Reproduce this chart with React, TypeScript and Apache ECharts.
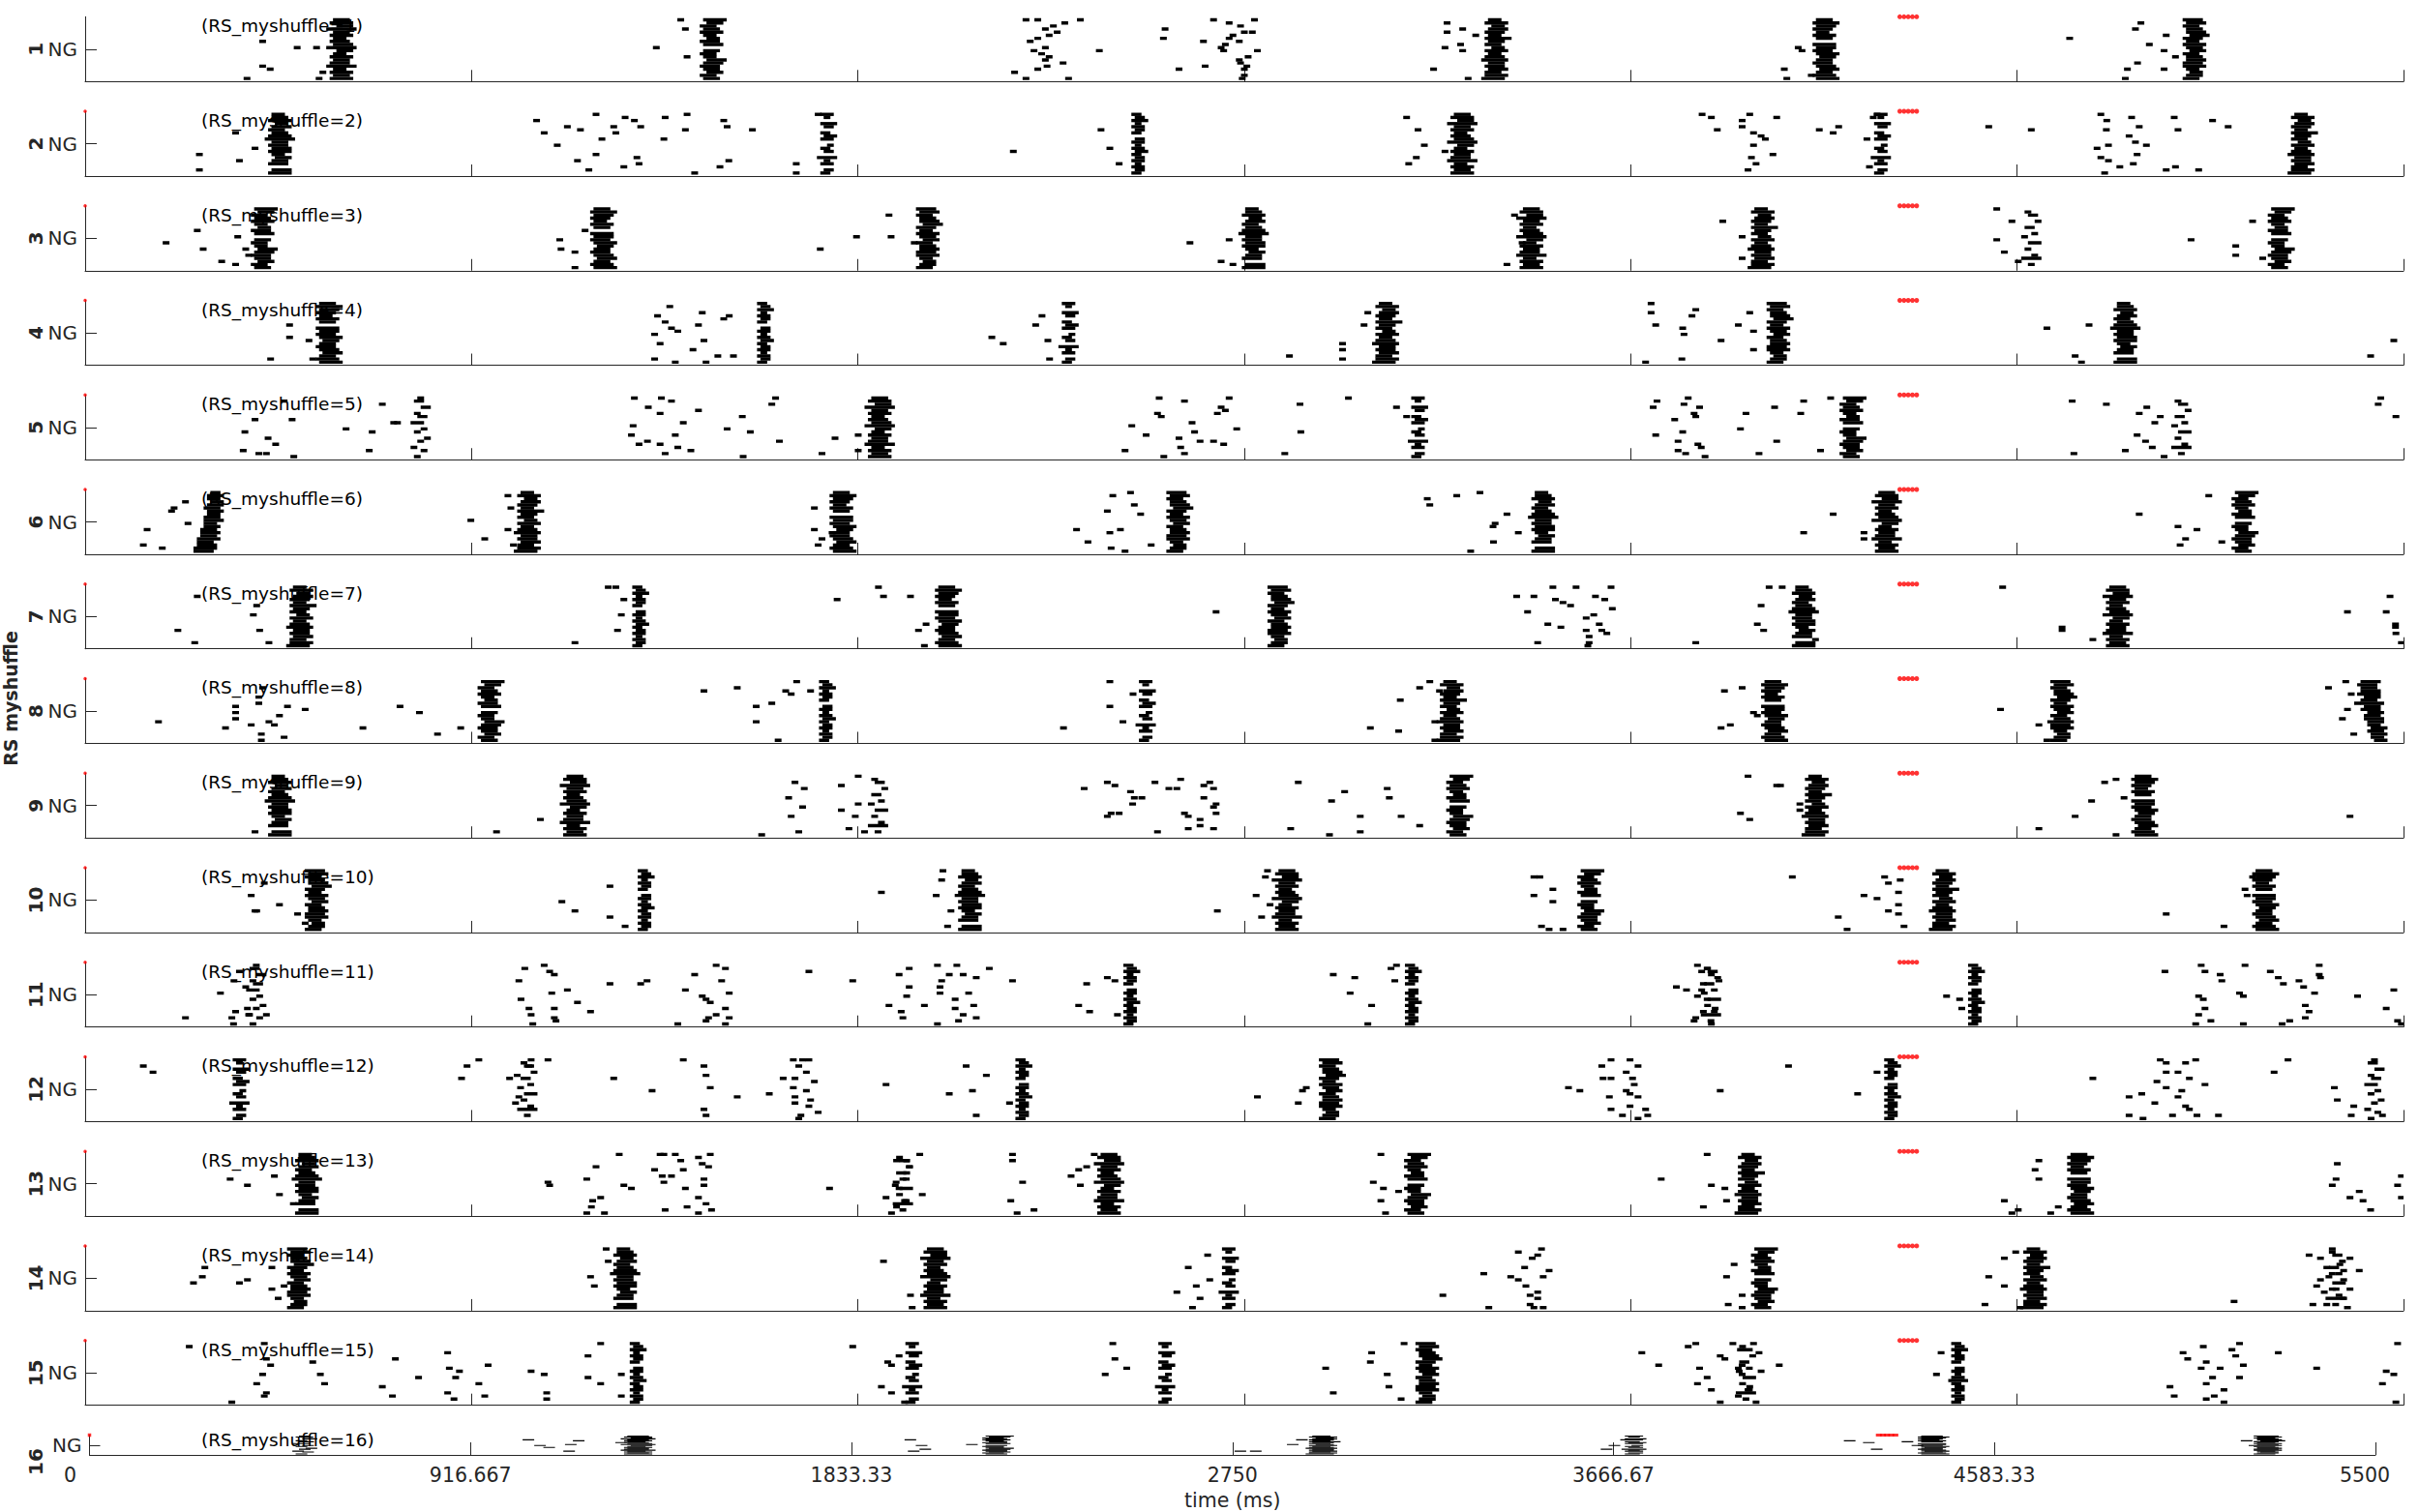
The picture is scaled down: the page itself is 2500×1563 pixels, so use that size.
import React, { useEffect, useRef } from 'react';
import * as echarts from 'echarts';

// ---------------- data ----------------
const X_MAX = 5500;
const X_TICK_STEP = 5500 / 6;
const X_TICK_LABELS = ['0', '916.667', '1833.33', '2750', '3666.67', '4583.33', '5500'];
const Y_TICK_VALUE = 10.5;
const Y_TICK_LABEL = 'NG';
const ROW_MAX = 21;
const STIM_ROW = 21;
const STIM_TIMES = [4305, 4315, 4325, 4335, 4345];
const ONSET_TIME = 0;
const X_TITLE = 'time (ms)';
const Y_TITLE = 'RS myshuffle';
const PANEL_IDS = [1, 2, 3, 4, 5, 6, 7, 8, 9, 10, 11, 12, 13, 14, 15, 16];
const HAS_ONSET = [false, true, true, true, true, true, true, true, true, true, true, true, true, true, true, true];

// burst row patterns (rows 1..20 bottom->top); each entry: first/last spike offset code
const PATTERN_STEP_MS = 8;
const PATTERNS = [
  '27 36 27 35 18 26 36 27 35 47 18 37 26 35 27 36 18 47 27 36',
  '36 25 47 36 26 37 48 35 25 36 .. 37 26 46 35 27 36 25 47 38',
  '16 27 25 37 26 36 17 26 35 27 46 25 36 28 35 26 37 46 27 35',
  '38 27 36 48 37 26 36 47 38 26 37 27 .. 36 27 35 26 37 28 36',
  '25 36 46 35 27 26 37 36 25 47 36 27 35 26 48 37 36 25 37 26',
  '27 37 .. 26 36 47 35 27 37 26 36 18 27 36 25 37 46 27 36 35',
  '15 16 26 25 27 36 37 36 47 46 48 47 57 58 47 58 68 57 58 67',
  '68 57 58 47 58 46 47 37 36 47 26 36 27 25 36 16 26 25 15 26',
  '33 .. 55 22 .. 44 66 .. 33 55 .. 24 .. 45 33 .. 56 .. 34 44',
  '.. 44 .. 26 55 .. 33 .. 46 .. 22 55 .. 34 .. 66 .. 45 33 ..',
  '34 45 .. 35 44 26 .. 45 34 55 .. 35 46 34 .. 45 36 .. 44 35',
  '34 45 35 44 35 45 34 46 35 44 35 45 .. 34 45 35 44 36 45 34',
];

// bursts: [centre time (ms), pattern index]
const P1_BURSTS = [[604, 0], [1482, 1], [3344, 2], [4122, 3], [5000, 4]];
const P2_BURSTS = [[458, 5], [1760, 10], [2498, 11], [3263, 0], [4260, 10], [5257, 2]];
const P3_BURSTS = [[417, 1], [1222, 3], [1995, 4], [2768, 5], [3427, 0], [3976, 2], [4617, 9], [5202, 1]];
const P4_BURSTS = [[571, 3], [1610, 11], [2333, 10], [3085, 2], [4013, 4], [4836, 5]];
const P5_BURSTS = [[796, 8], [1881, 0], [3162, 10], [4186, 1], [4973, 9]];
const P6_BURSTS = [[289, 6], [1049, 2], [1790, 3], [2589, 4], [3455, 5], [4270, 0], [5116, 1]];
const P7_BURSTS = [[509, 2], [1314, 11], [2040, 3], [2829, 4], [4073, 5], [4818, 0]];
const P8_BURSTS = [[955, 1], [1757, 11], [2516, 10], [3238, 2], [4000, 3], [4686, 4], [5422, 7]];
const P9_BURSTS = [[458, 5], [1158, 0], [1881, 9], [3253, 1], [4104, 2], [4878, 3]];
const P10_BURSTS = [[545, 4], [1327, 11], [2095, 5], [2847, 0], [3564, 1], [4406, 2], [5165, 3]];
const P11_BURSTS = [[406, 8], [2479, 11], [3147, 11], [3857, 9], [4483, 11]];
const P12_BURSTS = [[366, 10], [1049, 9], [2223, 11], [2951, 4], [4284, 11], [5431, 8]];
const P13_BURSTS = [[522, 5], [1940, 9], [2425, 0], [3153, 1], [3945, 2], [4726, 3]];
const P14_BURSTS = [[503, 4], [1277, 5], [2013, 0], [2713, 10], [3976, 1], [4622, 2], [5339, 9]];
const P15_BURSTS = [[1308, 11], [1962, 10], [2562, 10], [3180, 4], [3940, 9], [4443, 11]];
const P16_BURSTS = [[518, 8], [1316, 0], [2178, 1], [2964, 2], [3716, 10], [4429, 3], [5237, 4]];

// isolated spikes: [time (ms), row]
const P1_SPIKES = [[421,13],[503,11],[549,11],[421,5],[439,4],[384,1],[555,1],[564,3],[1413,20],[1424,17],[1355,11],[1428,8],[2232,20],[2260,20],[2297,18],[2324,19],[2361,20],[2278,17],[2306,16],[2287,15],[2260,14],[2242,13],[2251,10],[2278,11],[2269,9],[2287,8],[2278,7],[2320,6],[2282,5],[2260,4],[2205,3],[2232,1],[2333,1],[2406,10],[2562,17],[2558,14],[2653,13],[2595,4],[2657,5],[2677,20],[2714,19],[2774,20],[2741,18],[2750,16],[2723,15],[2769,16],[2714,14],[2738,13],[2705,12],[2695,11],[2701,10],[2781,10],[2759,8],[2738,7],[2741,6],[2756,5],[2750,4],[2750,2],[2745,1],[3231,19],[3231,16],[3268,17],[3226,11],[3263,12],[3268,10],[3199,4],[3281,1],[3299,15],[4064,11],[4073,10],[4031,4],[4037,1],[4095,2],[4708,14],[4864,17],[4877,19],[4937,15],[4897,12],[4932,10],[4959,8],[4869,6],[4845,4],[4932,4],[4840,1]];
const P2_SPIKES = [[271,7],[271,2],[366,5],[403,9],[357,14],[1071,18],[1089,14],[1120,10],[1144,16],[1168,5],[1175,15],[1195,2],[1212,20],[1212,7],[1226,12],[1254,16],[1259,14],[1278,3],[1281,19],[1303,18],[1309,6],[1314,4],[1318,16],[1373,12],[1376,19],[1424,15],[1428,20],[1446,1],[1506,3],[1515,18],[1523,16],[1527,5],[1583,15],[1687,4],[1687,1],[1739,20],[2202,8],[2410,15],[2431,9],[2453,4],[3135,19],[3162,15],[3177,10],[3158,6],[3140,4],[3226,8],[3836,20],[3858,19],[3949,20],[4013,19],[3872,15],[3931,16],[3931,18],[3958,14],[3976,13],[3986,12],[3958,10],[4004,7],[3953,6],[3945,2],[3964,4],[4114,15],[4147,14],[4160,16],[4227,12],[4233,3],[4251,20],[4242,19],[4516,16],[4617,15],[4782,20],[4796,18],[4855,19],[4873,16],[4795,15],[4849,13],[4864,11],[4890,10],[4773,9],[4800,10],[4868,7],[4782,6],[4800,5],[4859,4],[4827,3],[4791,1],[4937,2],[4959,3],[5014,2],[4956,19],[4965,15],[5047,18],[5084,16]];
const P3_SPIKES = [[192,9],[266,13],[280,7],[324,3],[357,2],[362,11],[381,7],[388,5],[1126,10],[1129,7],[1162,6],[1162,1],[1186,13],[1744,7],[1830,11],[1907,18],[1912,11],[1967,9],[2621,9],[2695,3],[2714,10],[2723,2],[3373,2],[3391,18],[3409,9],[3885,16],[3931,11],[3931,4],[4535,20],[4571,16],[4535,10],[4553,6],[4586,3],[5142,16],[4996,10],[5102,8],[5102,5],[5166,4]];
const P4_SPIKES = [[485,13],[485,9],[531,8],[440,2],[540,2],[1387,19],[1358,16],[1376,14],[1464,17],[1528,16],[1515,15],[1455,13],[1391,12],[1406,11],[1351,10],[1468,8],[1364,7],[1442,5],[1501,3],[1538,3],[1351,2],[1400,1],[1473,1],[2151,9],[2178,7],[2255,13],[2270,16],[2284,8],[2288,2],[2857,3],[2983,7],[2983,5],[2983,2],[3034,13],[3043,17],[3715,20],[3715,17],[3821,18],[3812,16],[3726,13],[3790,12],[3793,10],[3881,8],[3922,13],[3949,17],[3958,11],[3958,5],[3788,2],[3702,1],[4654,12],[4754,13],[4721,3],[4736,1],[5477,8],[5422,3]];
const P5_SPIKES = [[403,13],[434,7],[452,5],[491,13],[379,9],[375,3],[412,2],[430,2],[495,1],[472,19],[619,10],[681,9],[674,3],[705,18],[732,12],[741,12],[1303,20],[1367,20],[1391,19],[1336,17],[1455,16],[1364,15],[1559,14],[1419,12],[1300,11],[1523,10],[1578,9],[1296,8],[1400,8],[1334,6],[1364,5],[1647,6],[1314,5],[1406,4],[1437,3],[1376,2],[1638,20],[1629,18],[1561,1],[1779,7],[1748,2],[1834,8],[1834,3],[2548,20],[2608,19],[2544,15],[2553,14],[2483,11],[2626,12],[2632,9],[2517,8],[2595,7],[2645,6],[2467,3],[2599,4],[2559,1],[2608,2],[2714,20],[2695,17],[2705,16],[2686,15],[2732,10],[2677,6],[2701,5],[2882,18],[2884,9],[2846,2],[2997,20],[3111,17],[3135,14],[3803,20],[3729,19],[3793,18],[3720,17],[3830,17],[3817,15],[3821,14],[3771,13],[3940,15],[3927,10],[3790,9],[3726,8],[3779,6],[3826,5],[3834,4],[3779,3],[3797,2],[3843,1],[3971,2],[4013,6],[4008,17],[4070,15],[4077,19],[4117,3],[4141,20],[4714,19],[4795,18],[4891,17],[4873,15],[4923,14],[4910,12],[4868,8],[4888,6],[4904,4],[4840,3],[4718,2],[4932,1],[5446,20],[5440,18],[5482,14]];
const P6_SPIKES = [[238,17],[211,15],[205,14],[147,8],[138,3],[183,2],[244,10],[1003,19],[1010,15],[915,11],[948,5],[1016,3],[1003,8],[1730,15],[1730,8],[1748,5],[1739,3],[1772,7],[2438,19],[2480,20],[2489,16],[2425,14],[2504,13],[2456,8],[2352,8],[2431,7],[2379,4],[2434,2],[2467,1],[2529,3],[3309,20],[3254,19],[3184,18],[3190,16],[3373,13],[3345,10],[3340,9],[3400,7],[3341,4],[3287,1],[4147,13],[4077,7],[4220,7],[4220,5],[5038,19],[4873,13],[4965,9],[5010,8],[4983,5],[4970,3],[5069,4]];
const P7_SPIKES = [[266,17],[220,6],[260,2],[407,14],[399,11],[414,6],[436,2],[1162,2],[1259,20],[1241,20],[1278,16],[1263,6],[1272,11],[1882,20],[1894,17],[1958,17],[1784,16],[1977,6],[1995,8],[1991,1],[2683,12],[3396,17],[3437,17],[3482,20],[3537,20],[3620,20],[3583,17],[3488,16],[3605,16],[3506,15],[3524,14],[3623,13],[3422,12],[3579,11],[3561,10],[3470,8],[3592,8],[3501,7],[3561,6],[3598,6],[3610,5],[3568,4],[3446,2],[3568,2],[3565,1],[3995,20],[4026,20],[3976,14],[3967,8],[3982,6],[3821,2],[4105,3],[4549,20],[4690,7],[4690,6],[4763,3],[5468,17],[5367,12],[5459,12],[5481,8],[5481,7],[5482,5],[5495,2]];
const P8_SPIKES = [[174,7],[333,5],[357,12],[357,10],[357,8],[394,6],[412,15],[421,18],[412,13],[418,3],[418,1],[436,7],[449,6],[461,9],[472,2],[480,12],[522,11],[659,5],[747,12],[793,10],[836,3],[891,5],[1468,17],[1547,18],[1629,13],[1592,12],[1662,17],[1675,16],[1688,20],[1592,7],[1644,1],[1721,17],[2431,20],[2321,5],[2431,12],[2462,7],[2486,16],[3190,20],[3166,18],[3213,17],[3120,14],[3049,5],[3116,4],[3202,7],[3202,1],[3931,18],[3889,17],[3958,10],[3967,9],[3903,6],[3881,5],[4544,11],[4635,6],[4663,7],[4654,1],[5363,20],[5322,18],[5376,16],[5391,13],[5367,11],[5355,8],[5382,3]];
const P9_SPIKES = [[403,2],[1080,6],[976,2],[1684,18],[1706,16],[1669,13],[1702,10],[1675,7],[1693,2],[1794,17],[1834,11],[1794,9],[1827,7],[1849,2],[1812,3],[1605,1],[1834,20],[2370,16],[2425,18],[2443,17],[2480,15],[2489,13],[2485,11],[2507,13],[2434,8],[2425,7],[2453,8],[2538,18],[2571,16],[2590,16],[2599,19],[2608,8],[2617,7],[2645,6],[2654,13],[2645,4],[2654,17],[2544,2],[2617,3],[2668,18],[2677,16],[2683,11],[2677,10],[2683,8],[2677,3],[2878,18],[2988,15],[3089,16],[3094,13],[2957,12],[3025,7],[3122,7],[3166,4],[2860,3],[2952,1],[3025,2],[3945,20],[4013,17],[4022,17],[4068,11],[4068,9],[3927,8],[3949,6],[4791,18],[4818,19],[4837,13],[4760,12],[4721,7],[4635,3],[4818,1],[5373,7]];
const P10_SPIKES = [[394,12],[461,9],[407,7],[504,6],[522,3],[425,16],[403,7],[1245,15],[1131,10],[1162,7],[1245,5],[1281,2],[2035,20],[2032,17],[1889,13],[2019,12],[2054,7],[2046,2],[2805,20],[2800,18],[2778,12],[2811,9],[2686,7],[2791,5],[3437,18],[3451,18],[3482,14],[3437,12],[3482,10],[3455,2],[3473,1],[3506,1],[4050,18],[4269,18],[4306,17],[4278,16],[4302,13],[4220,12],[4251,11],[4302,9],[4278,7],[4302,6],[4159,5],[4315,2],[4180,1],[5124,14],[5129,12],[4937,6],[5074,2],[5142,18]];
const P11_SPIKES = [[321,11],[353,15],[357,5],[348,3],[352,1],[381,13],[385,6],[388,4],[430,4],[366,18],[238,3],[1043,19],[1089,20],[1102,18],[1113,17],[1029,15],[1107,11],[1144,12],[1034,9],[1168,8],[1053,6],[1113,6],[1058,4],[1199,5],[1117,2],[1062,1],[1113,3],[1245,14],[1318,14],[1333,15],[1497,20],[1519,19],[1510,15],[1446,17],[1424,12],[1464,10],[1473,9],[1528,11],[1483,8],[1519,6],[1497,4],[1479,3],[1528,3],[1519,1],[1473,2],[1406,1],[1717,18],[1821,15],[1955,19],[1931,17],[1955,13],[1949,10],[1907,7],[1936,5],[1940,3],[2022,20],[2068,20],[2050,17],[2083,17],[2114,16],[2032,15],[2028,13],[2028,11],[2096,11],[2064,9],[2108,7],[2083,4],[2064,6],[2114,3],[2072,2],[2022,1],[1991,7],[2145,19],[2200,15],[2425,16],[2443,15],[2376,14],[2357,7],[2383,5],[2449,4],[2961,17],[3012,16],[3001,11],[3052,7],[3111,20],[3098,19],[3107,15],[3043,1],[3825,20],[3848,19],[3835,18],[3858,17],[3876,15],[3839,14],[3775,13],[3799,12],[3835,12],[3825,10],[3848,9],[3867,6],[3839,5],[3821,3],[3817,2],[3858,1],[4416,10],[4447,9],[4452,6],[4934,18],[5020,20],[5029,18],[5065,17],[5069,15],[5124,20],[5184,18],[5203,16],[5215,14],[5252,15],[5263,13],[5289,11],[5300,20],[5300,17],[5303,16],[5267,7],[5276,5],[5267,3],[5230,2],[5212,1],[5014,10],[5025,9],[5111,11],[5120,10],[5029,6],[5014,4],[5043,2],[5007,1],[5120,1],[5391,10],[5477,12],[5459,6],[5486,2],[5495,1]];
const P12_SPIKES = [[138,18],[161,16],[906,18],[934,20],[893,14],[1007,14],[1025,15],[1058,20],[1053,18],[1098,20],[1021,6],[1029,8],[1254,14],[1345,10],[1419,20],[1468,18],[1473,15],[1483,11],[1468,4],[1473,2],[1547,8],[1623,9],[1680,20],[1702,20],[1717,20],[1693,18],[1711,16],[1656,14],[1684,14],[1730,13],[1680,11],[1711,10],[1684,8],[1721,7],[1684,6],[1717,5],[1698,2],[1739,3],[1693,1],[1900,12],[2050,9],[2090,18],[2105,10],[2138,15],[2114,2],[2193,6],[2781,8],[2878,6],[2897,11],[2888,10],[3620,20],[3598,18],[3665,20],[3684,18],[3656,16],[3671,14],[3601,14],[3620,14],[3519,11],[3546,10],[3675,12],[3656,10],[3665,9],[3616,8],[3684,8],[3665,5],[3620,4],[3702,4],[3647,2],[3684,1],[3707,2],[3879,10],[4041,18],[4205,9],[4251,16],[4763,14],[4923,20],[4937,19],[4983,19],[5007,20],[4965,16],[4937,16],[4992,14],[4915,13],[5029,12],[4879,9],[4937,11],[4974,10],[4849,8],[4965,8],[4910,6],[4983,5],[4849,2],[4882,1],[4952,2],[5010,2],[5061,2],[4992,4],[5226,20],[5193,16],[5336,11],[5343,7],[5382,5],[5376,2],[5450,2]];
const P13_SPIKES = [[344,12],[385,10],[449,13],[461,7],[494,4],[1212,16],[1190,12],[1278,10],[1296,9],[1267,20],[1204,5],[1223,6],[1201,3],[1190,1],[1232,1],[1351,15],[1364,20],[1373,20],[1400,20],[1413,18],[1455,19],[1483,20],[1479,16],[1464,17],[1369,13],[1391,13],[1419,15],[1373,11],[1468,12],[1468,10],[1424,9],[1455,6],[1473,4],[1428,3],[1376,2],[1455,1],[1486,2],[1098,11],[1102,10],[1766,9],[1980,20],[1949,18],[1925,18],[1955,16],[1949,14],[1940,12],[1922,10],[1931,9],[1986,7],[1900,6],[1944,5],[1925,3],[1913,1],[2200,20],[2200,18],[2224,11],[2196,5],[2251,2],[2211,1],[2394,20],[2376,16],[2339,13],[2361,10],[2357,15],[3074,20],[3056,11],[3080,9],[3116,8],[3074,5],[3085,1],[3848,20],[3739,12],[3839,3],[3858,10],[3890,9],[3894,5],[4635,18],[4626,15],[4635,12],[4553,5],[4586,2],[4571,1],[4663,1],[4681,3],[5343,17],[5340,12],[5331,10],[5395,8],[5373,6],[5404,5],[5422,2],[5495,13],[5486,10],[5495,6]];
const P14_SPIKES = [[284,14],[278,11],[257,9],[366,9],[385,10],[443,14],[443,7],[472,8],[458,4],[1236,20],[1241,16],[1199,11],[1208,8],[1894,16],[1958,5],[1962,1],[2617,14],[2668,10],[2636,8],[2590,6],[2645,4],[2627,1],[2663,18],[3221,5],[3330,1],[3318,12],[3400,19],[3455,20],[3446,18],[3433,17],[3415,14],[3473,13],[3382,11],[3459,11],[3400,10],[3418,8],[3446,6],[3428,5],[3446,4],[3428,2],[3459,1],[3437,1],[3894,11],[3931,5],[3898,2],[3931,1],[3912,15],[4553,17],[4580,19],[4516,11],[4553,8],[4507,2],[4590,1],[5098,3],[5331,20],[5276,18],[5303,17],[5373,17],[5349,15],[5318,14],[5358,13],[5395,13],[5331,12],[5303,10],[5358,10],[5294,8],[5340,7],[5373,7],[5312,6],[5358,4],[5285,2],[5318,2],[5367,1]];
const P15_SPIKES = [[247,19],[425,20],[430,15],[440,13],[421,10],[407,7],[430,4],[425,3],[348,1],[540,14],[558,10],[568,7],[736,15],[705,6],[729,3],[791,9],[860,17],[864,12],[888,11],[879,9],[860,4],[875,2],[934,7],[948,3],[956,13],[1058,11],[1089,10],[1095,4],[1095,2],[1193,16],[1193,9],[1223,20],[1223,7],[1272,10],[1272,3],[1821,19],[1904,14],[1913,13],[1931,16],[1889,6],[1913,4],[1944,1],[2438,20],[2443,15],[2471,12],[2420,10],[3052,17],[3049,14],[2943,12],[3089,10],[3093,6],[2961,4],[3122,2],[3129,20],[3693,17],[3733,13],[3803,19],[3821,20],[3830,12],[3848,9],[3825,7],[3858,5],[3879,16],[3890,15],[3909,20],[3927,18],[3931,13],[3922,12],[3971,17],[3976,11],[4019,13],[3958,20],[3931,10],[3949,6],[3945,5],[3922,3],[3964,1],[3879,1],[4403,17],[4392,10],[4428,8],[5025,19],[4977,17],[5093,18],[5111,20],[4988,15],[5032,14],[5102,16],[5120,13],[5020,12],[5065,12],[5047,9],[5111,9],[4946,6],[5032,7],[5074,5],[5051,3],[4956,3],[5032,2],[5074,1],[5203,17],[5294,12],[5486,20],[5459,11],[5477,10],[5450,7],[5482,1]];
const P16_SPIKES = [[1056,16],[1084,10],[1106,8],[1158,11],[1177,15],[1154,4],[1279,13],[1975,16],[2002,10],[2011,6],[1983,4],[2123,11],[2769,4],[2806,4],[2895,11],[2917,16],[3650,6],[3669,10],[3697,16],[4235,15],[4281,13],[4300,6],[4374,14],[4398,10],[5190,15],[5209,10]];

const PANEL_BURSTS = [P1_BURSTS, P2_BURSTS, P3_BURSTS, P4_BURSTS, P5_BURSTS, P6_BURSTS, P7_BURSTS, P8_BURSTS, P9_BURSTS, P10_BURSTS, P11_BURSTS, P12_BURSTS, P13_BURSTS, P14_BURSTS, P15_BURSTS, P16_BURSTS];
const PANEL_SPIKES = [P1_SPIKES, P2_SPIKES, P3_SPIKES, P4_SPIKES, P5_SPIKES, P6_SPIKES, P7_SPIKES, P8_SPIKES, P9_SPIKES, P10_SPIKES, P11_SPIKES, P12_SPIKES, P13_SPIKES, P14_SPIKES, P15_SPIKES, P16_SPIKES];

// ---------------- styling / layout ----------------
const FONT = '"DejaVu Sans", "Liberation Sans", sans-serif';
const INK = '#262626';
const AXIS_LINE = { color: INK, width: 1 };

function buildSpikeData(bursts: number[][], spikes: number[][]) {
  const out: number[][] = [];
  bursts.forEach(([t, pi]) => {
    const entries = PATTERNS[pi].split(' ');
    entries.forEach((e, r) => {
      if (e === '..') return;
      const a = Number(e[0]);
      const b = Number(e[1]);
      out.push([t + (a - 4) * PATTERN_STEP_MS, t + (b - 4) * PATTERN_STEP_MS, r + 1]);
    });
  });
  spikes.forEach(([t, r]) => out.push([t, t, r]));
  return out;
}

function makeRender(dashPx: number, barH: number) {
  return (params: any, api: any) => {
    const a = api.coord([api.value(0), api.value(2)]);
    const b = api.coord([api.value(1), api.value(2)]);
    return {
      type: 'rect',
      shape: { x: a[0] - dashPx / 2, y: a[1] - barH / 2, width: b[0] - a[0] + dashPx, height: barH },
      style: { fill: '#000000' },
    };
  };
}

function buildOption() {
  const grid: any[] = [];
  const xAxis: any[] = [];
  const yAxis: any[] = [];
  const series: any[] = [];
  const graphic: any[] = [];

  PANEL_IDS.forEach((id, i) => {
    const last = i === PANEL_IDS.length - 1;
    const top = last ? 1483.5 : 17.3 + i * 97.74;
    const height = last ? 20.5 : 67;
    const left = last ? 92.5 : 88;
    const width = last ? 2362.5 : 2396;
    grid.push({ left, top, width, height });

    xAxis.push({
      type: 'value',
      gridIndex: i,
      min: 0,
      max: X_MAX,
      interval: X_TICK_STEP,
      axisLine: { show: true, onZero: false, lineStyle: AXIS_LINE },
      axisTick: { show: true, inside: true, length: last ? 13 : 12, lineStyle: AXIS_LINE },
      splitLine: { show: false },
      axisLabel: {
        show: last,
        margin: 10,
        color: INK,
        fontFamily: FONT,
        fontSize: 20.5,
        formatter: (v: number) => {
          const k = Math.round(v / X_TICK_STEP);
          if (k === 0) return '{z|' + X_TICK_LABELS[0] + '}';
          if (k === 6) return '{m|' + X_TICK_LABELS[6] + '}';
          return X_TICK_LABELS[k] ?? '';
        },
        rich: {
          z: { padding: [0, 40, 0, 0], color: INK, fontFamily: FONT, fontSize: 20.5 },
          m: { padding: [0, 22, 0, 0], color: INK, fontFamily: FONT, fontSize: 20.5 },
        },
      },
      name: last ? X_TITLE : '',
      nameLocation: 'middle',
      nameGap: 36,
      nameTextStyle: { color: INK, fontFamily: FONT, fontSize: 20.5 },
    });

    yAxis.push({
      type: 'value',
      gridIndex: i,
      min: 0,
      max: ROW_MAX,
      interval: Y_TICK_VALUE,
      axisLine: { show: true, onZero: false, lineStyle: AXIS_LINE },
      axisTick: { show: true, inside: true, length: last ? 11 : 12, customValues: [Y_TICK_VALUE], lineStyle: AXIS_LINE },
      splitLine: { show: false },
      axisLabel: {
        show: true,
        customValues: [Y_TICK_VALUE],
        margin: 8,
        color: INK,
        fontFamily: FONT,
        fontSize: 20,
        formatter: (v: number) => (v === Y_TICK_VALUE ? Y_TICK_LABEL : ''),
      },
    });

    series.push({
      type: 'custom',
      xAxisIndex: i,
      yAxisIndex: i,
      clip: true,
      silent: true,
      encode: { x: [0, 1], y: 2 },
      renderItem: last ? makeRender(12, 1.1) : makeRender(7, 3.4),
      data: buildSpikeData(PANEL_BURSTS[i], PANEL_SPIKES[i]),
    });

    const redData: any[] = STIM_TIMES.map((t) => ({ value: [t, STIM_ROW], symbolSize: last ? [6, 3] : 5 }));
    if (HAS_ONSET[i]) redData.push({ value: [ONSET_TIME, STIM_ROW], symbolSize: 3.5 });
    series.push({
      type: 'scatter',
      xAxisIndex: i,
      yAxisIndex: i,
      clip: false,
      silent: true,
      symbol: last ? 'rect' : 'circle',
      itemStyle: { color: '#ff0000' },
      data: redData,
      z: 3,
    });

    graphic.push({
      type: 'text',
      x: 37,
      y: last ? 1511 : top + height / 2,
      rotation: Math.PI / 2,
      z: 1,
      style: {
        text: String(id),
        fill: INK,
        fontFamily: FONT,
        fontSize: 20,
        fontWeight: 'bold',
        textAlign: 'center',
        textVerticalAlign: 'middle',
        align: 'center',
        verticalAlign: 'middle',
      },
    });
    graphic.push({
      type: 'text',
      x: 208,
      y: last ? 1488 : top + 9.5,
      z: 1,
      style: {
        text: '(RS_myshuffle=' + id + ')',
        fill: '#000000',
        fontFamily: FONT,
        fontSize: 18.5,
        textAlign: 'left',
        textVerticalAlign: 'middle',
        align: 'left',
        verticalAlign: 'middle',
      },
    });
  });

  graphic.push({
    type: 'text',
    x: 11,
    y: 722,
    rotation: Math.PI / 2,
    z: 1,
    style: {
      text: Y_TITLE,
      fill: INK,
      fontFamily: FONT,
      fontSize: 19,
      fontWeight: 'bold',
      textAlign: 'center',
      textVerticalAlign: 'middle',
      align: 'center',
      verticalAlign: 'middle',
    },
  });

  return {
    animation: false,
    backgroundColor: '#ffffff',
    grid,
    xAxis,
    yAxis,
    series,
    graphic,
  };
}

export default function App() {
  const ref = useRef<HTMLDivElement>(null);
  useEffect(() => {
    if (!ref.current) return;
    const chart = echarts.init(ref.current, null, { renderer: 'svg' });
    chart.setOption(buildOption() as any);
    return () => chart.dispose();
  }, []);
  return (
    <div
      ref={ref}
      style={{ position: 'absolute', left: 0, top: 0, width: 2500, height: 1563, background: '#fff' }}
    />
  );
}
